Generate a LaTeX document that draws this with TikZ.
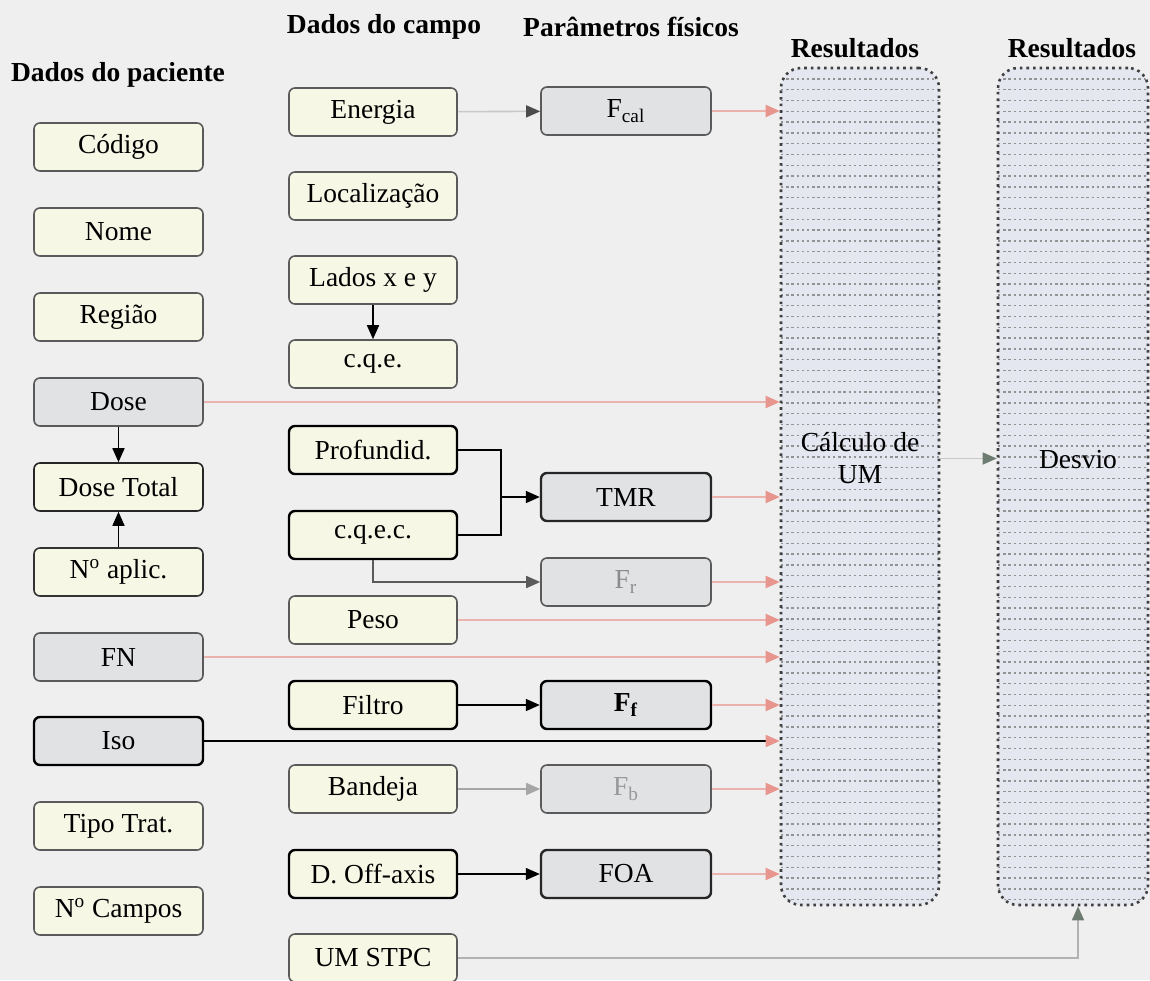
\documentclass[tikz,border=0pt]{standalone}
\usepackage{fontspec}
\setmainfont{Liberation Serif}
\usetikzlibrary{arrows.meta}
\definecolor{bg}{HTML}{EFEFEF}
\definecolor{yel}{HTML}{F7F7E6}
\definecolor{gry}{HTML}{E1E2E4}
\definecolor{lav}{HTML}{E4E6F0}
\definecolor{pinkline}{HTML}{EBB3AE}
\definecolor{pinktip}{HTML}{E8958E}
\definecolor{faint}{HTML}{C8C8C8}
\definecolor{tipgreen}{HTML}{6E7B70}
\definecolor{edge}{HTML}{5A5A5A}
\tikzset{
  box/.style={rounded corners=3pt, minimum height=24pt, inner sep=2pt, line width=0.8pt},
  ybox/.style={box, fill=yel, draw=edge},
  ybold/.style={box, fill=yel, draw=black, line width=1.2pt},
  gbox/.style={box, fill=gry, draw=edge},
  gbold/.style={box, fill=gry, draw=black, line width=1.2pt},
  pcol/.style={minimum width=84.5pt},
  fcol/.style={minimum width=84pt},
  kcol/.style={minimum width=85pt},
  head/.style={font=\fontsize{13.75}{16}\selectfont\bfseries},
  bigbox/.style={rounded corners=10pt, fill=lav, draw=black!75, dotted, line width=1.3pt,
    minimum width=79pt, minimum height=418.5pt,
    path picture={
      \foreach \k in {1,...,80}
        \draw[gray!85, solid, line width=0.7pt, dash pattern=on 1.2pt off 1.4pt]
          ([yshift=-\k*5.4pt]path picture bounding box.north west) -- ++(100pt,0);
    }},
  redarrow/.style={draw=pinkline, line width=1pt, -{Triangle[length=7pt,width=6pt,color=pinktip]}},
  blkarrow/.style={draw=black, line width=0.8pt, -{Triangle[length=7pt,width=6pt]}},
  gryarrow/.style={draw=edge, line width=0.8pt, -{Triangle[length=7pt,width=6pt]}},
}
\begin{document}
\begin{tikzpicture}[x=0.5pt, y=-0.5pt, font=\fontsize{13.75}{16}\selectfont]
\fill[bg] (0,0) rectangle (1150,980);
\useasboundingbox (0,0) rectangle (1150,980);

% column headings
\node[head] (h1) at (118,75) {Dados do paciente};
\node[head] (h2) at (384,27) {Dados do campo};
\node[head] (h3) at (631,27) {Parâmetros físicos};
\node[head] (h4) at (855,48) {Resultados};
\node[head] (h5) at (1072,48) {Resultados};

% patient data
\node[ybox, pcol]  (cod)   at (118.5,147) {Código};
\node[ybox, pcol]  (nome)  at (118.5,232) {Nome};
\node[ybox, pcol]  (reg)   at (118.5,317) {Região};
\node[gbox, pcol]  (dose)  at (118.5,402) {Dose};
\node[ybox, pcol, draw=black!85] (dtot) at (118.5,487) {Dose Total};
\node[ybox, pcol, draw=black!80] (napl) at (118.5,572) {N\textsuperscript{o} aplic.};
\node[gbox, pcol]  (fn)    at (118.5,657) {FN};
\node[gbold, pcol] (iso)   at (118.5,741) {Iso};
\node[ybox, pcol]  (tipo)  at (118.5,826) {Tipo Trat.};
\node[ybox, pcol]  (ncamp) at (118.5,911) {N\textsuperscript{o} Campos};

% field data
\node[ybox, fcol]  (ener)  at (373,112) {Energia};
\node[ybox, fcol]  (loc)   at (373,196) {Localização};
\node[ybox, fcol]  (lados) at (373,280) {Lados x e y};
\node[ybox, fcol]  (cqe)   at (373,364) {c.q.e.};
\node[ybold, fcol] (prof)  at (373,450) {Profundid.};
\node[ybold, fcol] (cqec)  at (373,535) {c.q.e.c.};
\node[ybox, fcol]  (peso)  at (373,620) {Peso};
\node[ybold, fcol] (filt)  at (373,705) {Filtro};
\node[ybox, fcol]  (band)  at (373,789) {Bandeja};
\node[ybold, fcol] (doff)  at (373,874) {D. Off-axis};
\node[ybox, fcol]  (umst)  at (373,958) {UM STPC};

% physical parameters
\node[gbox, kcol]  (fcal)  at (626,111) {F\textsubscript{cal}};
\node[gbold, kcol, draw=black!85] (tmr) at (626,497) {TMR};
\node[gbox, kcol, text=black!45] (fr) at (626,582) {F\textsubscript{r}};
\node[gbold, kcol] (ff)    at (626,705) {\bfseries F\textsubscript{f}};
\node[gbox, kcol, text=black!40] (fb) at (626,789) {F\textsubscript{b}};
\node[gbold, kcol, draw=black!85] (foa) at (626,874) {FOA};

% results
\node[bigbox] (calc) at (860,486.5) {};
\node[bigbox, minimum width=75pt] (desv) at (1073,486.5) {};
\node[align=center] (calct) at (860,458) {Cálculo de\\UM};
\node (desvt) at (1078,460) {Desvio};

% dependencies among inputs
\draw[blkarrow] (dose) -- (dtot);
\draw[blkarrow] (napl) -- (dtot);
\draw[blkarrow] (lados) -- (cqe);
\coordinate (jtmr) at (501,497);
\draw[draw=black, line width=0.8pt] (prof.east) -| (jtmr);
\draw[draw=black, line width=0.8pt] (cqec.east) -| (jtmr);
\draw[blkarrow] (jtmr) -- (tmr.west);
\draw[gryarrow] (cqec.south) |- (fr.west);
\draw[blkarrow] (filt) -- (ff);
\draw[gryarrow, draw=gray!70] (band) -- (fb);
\draw[blkarrow, line width=0.6pt] (doff) -- (foa);
\draw[draw=faint, line width=0.8pt, -{Triangle[length=7pt,width=6pt,color=black!70]}] (ener) -- (fcal);

% inputs to the MU calculation
\foreach \src in {fcal, dose, tmr, fr, peso, fn, ff, fb, foa}
  \draw[redarrow] (\src.east) -- (\src.east -| calc.west);
\draw[draw=black, line width=0.8pt, -{Triangle[length=7pt,width=6pt,color=pinktip]}]
  (iso.east) -- (iso.east -| calc.west);

% results to deviation
\draw[draw=faint, line width=0.8pt, -{Triangle[length=7pt,width=6pt,color=tipgreen]}]
  ([yshift=14pt]calc.east) -- ([yshift=14pt]desv.west);
\draw[draw=gray!60, line width=0.8pt, -{Triangle[length=7pt,width=6pt,color=tipgreen]}]
  (umst.east) -| ([xshift=2.5pt]desv.south);
\end{tikzpicture}
\end{document}
